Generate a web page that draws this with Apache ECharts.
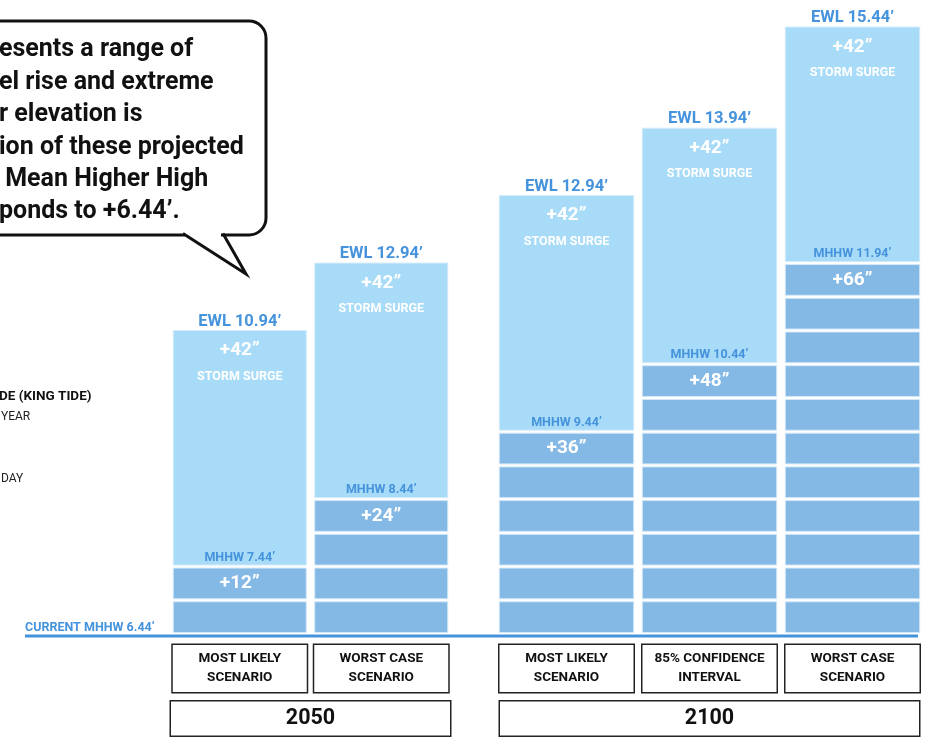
<!DOCTYPE html>
<html>
<head>
<meta charset="utf-8">
<script src="https://cdn.jsdelivr.net/npm/echarts@6/dist/echarts.min.js"></script>
<style>
  html, body { margin: 0; padding: 0; background: #ffffff; }
  #chart { width: 932px; height: 740px; }
</style>
</head>
<body>
<div id="chart"></div>
<script>
// Sea level rise + storm surge scenarios (feet above datum)
const currentMHHW = 6.44;
const topLevel = 15.44;

const years = ['2050', '2100'];
const scenarios2050 = ['MOST LIKELY\nSCENARIO', 'WORST CASE\nSCENARIO'];
const scenarios2100 = ['MOST LIKELY\nSCENARIO', '85% CONFIDENCE\nINTERVAL', 'WORST CASE\nSCENARIO'];

// sea level rise in inches
const rise2050 = [12, 24];
const rise2100 = [36, 48, 66];
// storm surge in inches
const surge2050 = [42, 42];
const surge2100 = [42, 42, 42];

// printed labels
const ewlLabels2050 = ['10.94', '12.94'];
const ewlLabels2100 = ['12.94', '13.94', '15.44'];
const mhhwLabels2050 = ['7.44', '8.44'];
const mhhwLabels2100 = ['9.44', '10.44', '11.94'];

const blockInches = 6;

const FONT = 'Roboto, "Liberation Sans", sans-serif';
const LIGHT = '#a8dbf7';
const DARK = '#84b8e5';
const BLUE = '#4593dc';

function makeRenderer(ewlLabels, mhhwLabels) {
  return function (params, api) {
    const i = params.dataIndex;
    const cat = api.value(0);
    const riseIn = api.value(1);
    const surgeIn = api.value(2);
    const riseFt = riseIn / 12;
    const surgeFt = surgeIn / 12;
    const barW = api.size([1, 0])[0] * 0.94;
    const cx = api.coord([cat, currentMHHW])[0];
    const x0 = cx - barW / 2;
    const children = [];

    // half-foot blocks of sea level rise
    const steps = Math.round(riseIn / blockInches);
    const stepFt = blockInches / 12;
    for (let k = 0; k < steps; k++) {
      const yLow = api.coord([cat, currentMHHW + k * stepFt])[1];
      const yHigh = api.coord([cat, currentMHHW + (k + 1) * stepFt])[1];
      children.push({
        type: 'rect',
        shape: { x: x0, y: yHigh + 1.5, width: barW, height: yLow - yHigh - 3 },
        style: { fill: DARK, stroke: '#d3e8f8', lineWidth: 1 }
      });
    }

    // storm surge on top
    const ySurgeLow = api.coord([cat, currentMHHW + riseFt])[1];
    const ySurgeHigh = api.coord([cat, currentMHHW + riseFt + surgeFt])[1];
    children.push({
      type: 'rect',
      shape: { x: x0, y: ySurgeHigh, width: barW, height: ySurgeLow - ySurgeHigh - 1.5 },
      style: { fill: LIGHT, stroke: '#d3ecfb', lineWidth: 1 }
    });

    const txt = (text, y, size, color) => ({
      type: 'text',
      style: {
        text: text, x: cx, y: y,
        align: 'center', verticalAlign: 'middle',
        fill: color, fontSize: size, fontWeight: 'bold', fontFamily: FONT
      }
    });

    children.push(txt('EWL ' + ewlLabels[i] + '\u2019', ySurgeHigh - 9, 16.5, BLUE));
    children.push(txt('+' + surgeIn + '\u201D', ySurgeHigh + 20, 19, '#ffffff'));
    children.push(txt('STORM SURGE', ySurgeHigh + 46, 12.5, '#ffffff'));
    children.push(txt('MHHW ' + mhhwLabels[i] + '\u2019', ySurgeLow - 9, 12.5, BLUE));
    children.push(txt('+' + riseIn + '\u201D', ySurgeLow + 17, 19, '#ffffff'));

    return { type: 'group', children: children };
  };
}

function xAxisFor(gridIndex, cats, year, boxWidth) {
  return {
    type: 'category',
    gridIndex: gridIndex,
    data: cats,
    axisLine: { show: false },
    axisTick: { show: false },
    splitLine: { show: false },
    axisLabel: {
      interval: 0,
      margin: 11,
      color: '#111111',
      fontFamily: FONT,
      fontWeight: 'bold',
      fontSize: 13.5,
      lineHeight: 19,
      width: 134,
      align: 'center',
      padding: [4.5, 0, 4.5, 0],
      borderColor: '#222222',
      borderWidth: 1.5,
      backgroundColor: '#ffffff'
    },
    name: '{y|' + year + '}',
    nameLocation: 'middle',
    nameGap: 73,
    nameTextStyle: {
      rich: {
        y: {
          color: '#111111',
          fontFamily: FONT,
          fontWeight: 'bold',
          fontSize: 21.5,
          lineHeight: 23,
          width: boxWidth,
          align: 'center',
          padding: [6, 0, 6, 0],
          borderColor: '#222222',
          borderWidth: 1.5,
          backgroundColor: '#ffffff'
        }
      }
    }
  };
}

function yAxisFor(gridIndex) {
  return {
    type: 'value',
    gridIndex: gridIndex,
    min: currentMHHW,
    max: topLevel,
    show: false
  };
}

const chart = echarts.init(document.getElementById('chart'), null, { renderer: 'canvas' });

chart.setOption({
  animation: false,
  backgroundColor: '#ffffff',
  grid: [
    { left: 169, width: 283, top: 27, bottom: 106, outerBoundsMode: 'none', containLabel: false },
    { left: 495, width: 429, top: 27, bottom: 106, outerBoundsMode: 'none', containLabel: false }
  ],
  xAxis: [
    xAxisFor(0, scenarios2050, years[0], 279),
    xAxisFor(1, scenarios2100, years[1], 419)
  ],
  yAxis: [yAxisFor(0), yAxisFor(1)],
  series: [
    {
      type: 'custom',
      xAxisIndex: 0, yAxisIndex: 0,
      renderItem: makeRenderer(ewlLabels2050, mhhwLabels2050),
      data: rise2050.map((r, k) => [k, r, surge2050[k]]),
      clip: false
    },
    {
      type: 'custom',
      xAxisIndex: 1, yAxisIndex: 1,
      renderItem: makeRenderer(ewlLabels2100, mhhwLabels2100),
      data: rise2100.map((r, k) => [k, r, surge2100[k]]),
      clip: false
    }
  ]
});

// baseline and annotations
const yBase = chart.convertToPixel({ yAxisIndex: 0 }, currentMHHW);

chart.setOption({
  graphic: [
    {
      type: 'rect',
      shape: { x: -20, y: 21, width: 286, height: 214, r: 17 },
      style: { fill: '#ffffff', stroke: '#111111', lineWidth: 3 },
      z: 10
    },
    {
      type: 'line',
      shape: { x1: 185, y1: 235, x2: 221, y2: 235 },
      style: { stroke: '#ffffff', lineWidth: 5 },
      z: 11
    },
    {
      type: 'polyline',
      shape: { points: [[183, 233.5], [246, 274], [223, 233.5]] },
      style: { stroke: '#111111', lineWidth: 3, fill: null, lineJoin: 'miter' },
      z: 11
    },
    {
      type: 'text',
      left: -1,
      top: 34,
      style: {
        text: 'esents a range of\nel rise and extreme\nr elevation is\nion of these projected\n Mean Higher High\nponds to +6.44\u2019.',
        fill: '#111111',
        fontFamily: FONT,
        fontWeight: 'bold',
        fontSize: 25,
        lineHeight: 32.4
      },
      z: 12
    },
    {
      type: 'text', left: -1, top: 390,
      style: { text: 'DE (KING TIDE)', fill: '#111111', fontFamily: FONT, fontWeight: 'bold', fontSize: 13.5 }
    },
    {
      type: 'text', left: 1, top: 411,
      style: { text: 'YEAR', fill: '#222222', fontFamily: FONT, fontSize: 12 }
    },
    {
      type: 'text', left: 1, top: 473,
      style: { text: 'DAY', fill: '#222222', fontFamily: FONT, fontSize: 12 }
    },
    {
      type: 'line',
      shape: { x1: 25, y1: yBase + 2, x2: 918, y2: yBase + 2 },
      style: { stroke: BLUE, lineWidth: 3 }
    },
    {
      type: 'text', left: 25, top: yBase - 13,
      style: { text: 'CURRENT MHHW 6.44\u2019', fill: BLUE, fontFamily: FONT, fontWeight: 'bold', fontSize: 12.5 }
    }
  ]
});
</script>
</body>
</html>
